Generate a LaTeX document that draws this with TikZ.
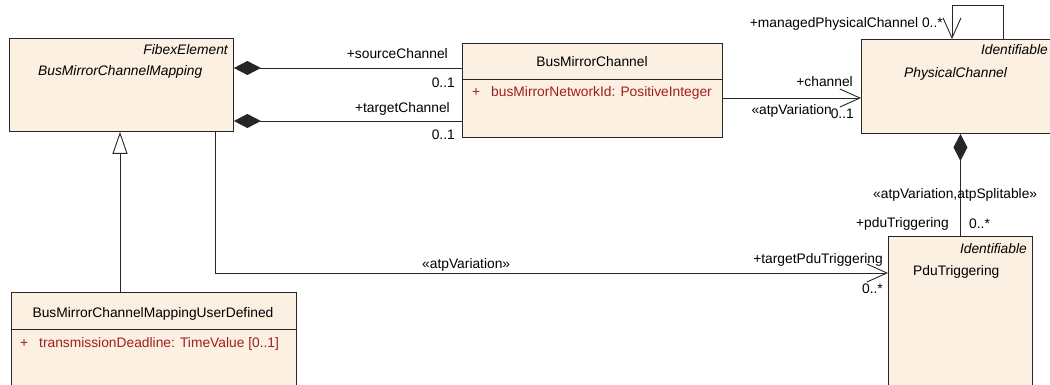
\documentclass[tikz,border=0pt]{standalone}
\usepackage{fontspec}
\setmainfont{Liberation Sans}
\usepackage{xcolor}
\usepackage{tikz}
\usetikzlibrary{arrows.meta}
\definecolor{classfill}{RGB}{251,240,226}
\definecolor{attrred}{RGB}{160,30,30}

\begin{document}
\begin{tikzpicture}[x=1pt, y=-1pt,
  font=\fontsize{13.8}{16}\selectfont,
  cls/.style={draw=black!85, fill=classfill, line width=0.9pt, anchor=north west, inner sep=0pt},
  txt/.style={inner sep=0pt, text height=10pt, text depth=0pt},
  ital/.style={txt, font=\fontsize{13.8}{16}\selectfont\itshape},
  attr/.style={txt, text=attrred},
  compo/.style={draw=black!85, line width=0.9pt, {Diamond[length=27pt,width=14pt]}-},
  assoc/.style={draw=black!85, line width=0.9pt, -{Straight Barb[length=20pt,width=18pt]}},
  gener/.style={draw=black!85, line width=0.9pt, -{Triangle[open,length=22pt,width=15pt,fill=white]}}]
  \useasboundingbox[fill=white] (0,0) rectangle (1050,385);

  % ===== Classes =====
  \node[cls, minimum width=224pt, minimum height=93pt] (mapping) at (9,38) {};
  \node[cls, minimum width=260pt, minimum height=94pt] (mirror) at (462,43) {};
  \node[cls, minimum width=200pt, minimum height=94pt] (physical) at (861,39) {};
  \node[cls, minimum width=144pt, minimum height=160pt] (trigger) at (888,236) {};
  \node[cls, minimum width=285pt, minimum height=103pt] (userdef) at (11,292) {};

  % compartment lines
  \draw[black!85, line width=0.9pt] (mirror.west |- 0,79) -- (mirror.east |- 0,79);
  \draw[black!85, line width=0.9pt] (userdef.west |- 0,329) -- (userdef.east |- 0,329);

  % class texts
  \node[ital, anchor=east] (mappingst) at (228,50) {FibexElement};
  \node[ital, anchor=west] (mappingname) at (38,71) {BusMirrorChannelMapping};
  \node[txt] (mirrorname) at (592,62) {BusMirrorChannel};
  \node[attr, anchor=west] (mirrorplus) at (472,92) {+};
  \node[attr, anchor=west] (mirrorattr) at (491,92) {busMirrorNetworkId: PositiveInteger};
  \node[ital, anchor=east] (physicalst) at (1048,50) {Identifiable};
  \node[ital, anchor=west] (physicalname) at (904,73) {PhysicalChannel};
  \node[ital, anchor=east] (triggerst) at (1027,248) {Identifiable};
  \node[txt, anchor=west] (triggername) at (913,270) {PduTriggering};
  \node[txt] (userdefname) at (153,312) {BusMirrorChannelMappingUserDefined};
  \node[attr, anchor=west] (userdefplus) at (20,342) {+};
  \node[attr, anchor=west] (userdefattr) at (39,342) {transmissionDeadline: TimeValue [0..1]};

  % ===== Connectors =====
  \draw[compo] (mapping.east |- 0,68) -- (mirror.west |- 0,68);
  \draw[compo] (mapping.east |- 0,121) -- (mirror.west |- 0,121);
  \draw[assoc] (mirror.east |- 0,98) -- (physical.west |- 0,98);
  \draw[assoc] ([xshift=142pt]physical.north west) -- ++(0,-34) -| ([xshift=91pt]physical.north west);
  \draw[compo] (physical.south -| trigger.north) -- (trigger.north);
  \draw[gener] (userdef.north -| 120,0) -- (mapping.south -| 120,0);
  \draw[assoc] (mapping.south -| 215,0) |- (trigger.west |- 0,273);

  % role labels
  \node[txt, anchor=east] (srcrole) at (448,54) {+sourceChannel};
  \node[txt, anchor=east] (srcmult) at (455,83) {0..1};
  \node[txt, anchor=east] (tgtrole) at (450,108) {+targetChannel};
  \node[txt, anchor=east] (tgtmult) at (455,135) {0..1};
  \node[txt, anchor=east] (chanrole) at (853,82) {+channel};
  \node[txt, anchor=east] (chanvar) at (832,110) {«atpVariation};
  \node[txt, anchor=east] (chanmult) at (854,114) {0..1};
  \node[txt, anchor=east] (managedrole) at (943,23) {+managedPhysicalChannel 0..*};
  \node[txt, anchor=west] (pduvar) at (873,194) {«atpVariation,atpSplitable»};
  \node[txt, anchor=east] (pdurole) at (949,222) {+pduTriggering};
  \node[txt, anchor=west] (pdumult) at (969,223) {0..*};
  \node[txt, anchor=east] (tpdurole) at (883,258) {+targetPduTriggering};
  \node[txt, anchor=east] (tpdumult) at (883,288) {0..*};
  \node[txt, anchor=west] (tpduvar) at (422,263) {«atpVariation»};
\end{tikzpicture}
\end{document}
